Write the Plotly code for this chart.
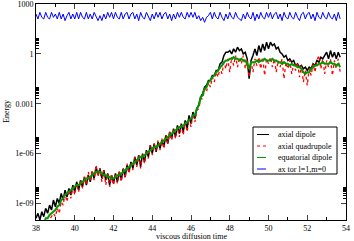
import plotly.graph_objects as go

T0 = 38.0
N = 158
time = [round(T0 + 0.1 * i, 1) for i in range(N)]

# log10 of energies
axial_dipole_log = [
-9.9,-9.6,-10.0,-9.5,-9.8,-9.3,-9.6,-9.1,-9.4,-8.8,
-9.2,-8.7,-9.0,-8.4,-8.8,-8.2,-8.6,-8.1,-8.5,-7.9,
-8.3,-7.7,-8.2,-7.6,-8.0,-7.4,-7.9,-7.3,-7.7,-7.1,
-7.5,-6.8,-7.3,-6.9,-7.5,-7.0,-7.6,-7.2,-7.9,-7.3,
-7.8,-7.2,-7.7,-7.1,-7.6,-6.9,-7.4,-6.7,-7.1,-6.5,
-6.9,-6.2,-6.7,-6.1,-6.8,-6.0,-6.5,-5.8,-6.2,-5.5,
-6.0,-5.4,-5.9,-5.3,-5.7,-5.2,-5.6,-4.9,-5.4,-4.7,
-5.1,-4.5,-5.0,-4.3,-4.8,-4.2,-4.7,-4.0,-4.5,-3.7,
-4.2,-3.5,-3.9,-3.3,-3.1,-2.6,-2.4,-2.0,-1.9,-1.6,
-1.6,-1.3,-1.3,-1.0,-1.0,-0.6,-0.5,-0.1,0.1,0.1,
0.2,0.0,0.3,0.1,0.4,0.2,0.3,0.0,0.1,-0.3,
-1.5,-0.4,-0.1,0.3,-0.1,0.5,0.1,0.6,0.2,0.7,
0.3,0.7,0.5,0.6,0.3,0.4,0.1,0.0,-0.2,-0.1,
-0.4,-0.3,-0.5,-0.4,-0.7,-0.6,-0.8,-0.7,-0.9,-0.8,
-1.0,-0.8,-0.9,-0.6,-0.7,-0.4,-0.5,-0.2,-0.3,-0.1,
0.1,-0.3,0.2,-0.2,0.1,-0.3,0.1,-0.2]

axial_quadrupole_log = [
-11.0,-10.8,-10.7,-10.5,-10.4,-10.2,-10.1,-9.9,-9.8,-9.6,
-9.8,-9.3,-9.6,-8.9,-9.1,-8.4,-8.9,-8.2,-8.7,-8.0,
-8.5,-7.8,-8.3,-7.6,-8.1,-7.4,-7.9,-7.1,-7.7,-7.0,
-7.6,-6.7,-7.4,-6.9,-7.7,-7.0,-7.9,-7.2,-8.0,-7.3,
-7.9,-7.2,-7.8,-7.0,-7.7,-6.9,-7.5,-6.6,-7.2,-6.5,
-7.0,-6.2,-6.8,-6.1,-6.9,-6.0,-6.6,-5.8,-6.3,-5.5,
-6.1,-5.4,-5.9,-5.2,-5.8,-5.1,-5.7,-4.9,-5.4,-4.7,
-5.2,-4.5,-5.1,-4.4,-5.0,-4.3,-4.9,-4.1,-4.7,-3.9,
-4.4,-3.6,-4.1,-3.4,-3.3,-2.7,-2.7,-2.1,-2.3,-1.7,
-2.0,-1.4,-1.7,-1.1,-1.4,-0.8,-1.2,-0.5,-0.9,-0.3,
-1.1,-0.2,-0.7,-0.1,-0.8,-0.2,-0.6,-0.1,-0.9,-0.4,
-1.4,-0.5,-1.1,-0.3,-0.7,-0.2,-0.9,-0.2,-1.3,-0.3,
-0.6,-0.2,-0.8,-0.3,-1.1,-0.4,-0.8,-0.3,-1.5,-0.5,
-0.9,-0.4,-1.2,-0.6,-1.0,-0.5,-1.4,-0.7,-1.7,-1.0,
-1.9,-0.9,-1.3,-0.6,-1.1,-0.4,-0.1,-0.9,-0.3,-1.2,
-0.4,-0.8,-0.3,-1.3,-0.4,-0.9,-0.3,-1.1]

equatorial_dipole_log = [
-10.8,-10.5,-10.6,-10.2,-10.3,-9.9,-9.9,-9.7,-9.6,-9.5,
-9.4,-9.2,-9.1,-8.8,-8.7,-8.5,-8.4,-8.3,-8.2,-8.1,
-8.0,-7.9,-7.9,-7.8,-7.7,-7.6,-7.5,-7.5,-7.4,-7.3,
-7.2,-7.1,-7.1,-7.1,-7.2,-7.3,-7.3,-7.4,-7.4,-7.5,
-7.5,-7.4,-7.3,-7.3,-7.2,-7.1,-7.0,-6.9,-6.8,-6.7,
-6.6,-6.5,-6.4,-6.3,-6.2,-6.2,-6.1,-6.0,-5.9,-5.8,
-5.7,-5.6,-5.6,-5.5,-5.4,-5.3,-5.2,-5.1,-5.0,-4.9,
-4.8,-4.7,-4.6,-4.5,-4.4,-4.4,-4.3,-4.2,-4.1,-4.0,
-3.9,-3.7,-3.7,-3.3,-3.1,-2.6,-2.5,-2.1,-2.0,-1.7,
-1.6,-1.4,-1.3,-1.1,-1.0,-0.8,-0.7,-0.5,-0.4,-0.4,
-0.3,-0.3,-0.2,-0.3,-0.3,-0.4,-0.3,-0.4,-0.4,-0.6,
-0.9,-0.5,-0.5,-0.5,-0.4,-0.5,-0.4,-0.4,-0.3,-0.4,
-0.4,-0.4,-0.3,-0.4,-0.4,-0.5,-0.5,-0.6,-0.5,-0.6,
-0.6,-0.7,-0.6,-0.7,-0.7,-0.8,-0.8,-0.9,-1.1,-1.2,
-1.1,-1.1,-0.9,-0.8,-0.7,-0.7,-0.6,-0.6,-0.5,-0.6,
-0.6,-0.6,-0.5,-0.6,-0.6,-0.7,-0.6,-0.8]

ax_tor_log = [
2.4,2.1,2.5,2.2,2.1,2.5,2.2,2.1,2.5,2.2,
2.4,2.1,2.5,2.1,2.4,2.0,2.3,2.5,2.1,2.4,
2.1,2.5,2.1,2.5,2.2,2.1,2.5,2.1,2.4,2.1,
2.5,2.2,2.0,2.3,2.0,2.4,2.1,2.5,2.2,2.5,
2.1,2.5,2.2,2.1,2.5,2.1,2.4,2.5,2.1,2.4,
2.5,2.1,2.4,2.0,2.5,2.2,2.1,2.5,2.2,2.0,
2.4,2.1,2.5,2.2,2.5,2.1,2.4,2.5,2.1,2.4,
2.0,2.4,2.1,2.5,2.2,2.5,2.2,2.1,2.5,2.2,
2.5,2.2,2.5,2.1,2.3,2.0,2.2,1.9,2.2,2.3,
2.5,2.1,2.5,2.2,2.1,2.5,2.2,2.0,2.4,2.1,
2.5,2.2,2.1,2.5,2.2,2.1,2.0,2.4,2.1,2.5,
2.2,2.1,2.5,2.0,2.4,2.1,2.5,2.2,2.1,2.5,
2.2,2.5,2.1,2.4,2.5,2.1,2.4,2.0,2.5,2.2,
2.1,2.5,2.2,2.1,2.5,2.2,2.0,2.4,2.5,2.1,
2.4,2.5,2.1,2.4,2.0,2.5,2.2,2.1,2.5,2.2,
2.1,2.5,2.2,2.1,2.4,2.0,2.5,2.1]

series_names = ["axial dipole", "axial quadrupole", "equatorial dipole", "ax tor l=1,m=0"]
series_colors = ["black", "red", "#009900", "blue"]
legend_dash = ["solid", "dot", "dash", "dash"]
x_tick_vals = [38, 40, 42, 44, 46, 48, 50, 52, 54]
y_tick_vals = [1e-9, 1e-6, 1e-3, 1, 1000]
y_tick_text = ["1e-09", "1e-06", "0.001", "1", "1000"]

FONT = "Liberation Serif, Times New Roman, serif"
W, H = 354, 241
ML, MR, MT, MB = 36, 8, 4, 21
PW, PH = W - ML - MR, H - MT - MB


def tolin(a):
    return [10 ** v for v in a]


def px(xp):
    return (xp - ML) / PW


def py(yp):
    return (H - MB - yp) / PH


fig = go.Figure()
fig.add_trace(go.Scatter(x=time, y=tolin(axial_dipole_log), name=series_names[0], mode="lines",
                         line=dict(color=series_colors[0], width=1.5)))
fig.add_trace(go.Scatter(x=time, y=tolin(axial_quadrupole_log), name=series_names[1], mode="lines",
                         line=dict(color=series_colors[1], width=1.3, dash="dot")))
fig.add_trace(go.Scatter(x=time, y=tolin(equatorial_dipole_log), name=series_names[2], mode="lines",
                         line=dict(color=series_colors[2], width=2.0)))
fig.add_trace(go.Scatter(x=time, y=tolin(ax_tor_log), name=series_names[3], mode="lines",
                         line=dict(color=series_colors[3], width=1.0)))

minor_y = [m * 10 ** e for e in (-9, -6, -3, 0) for m in range(2, 10)]

shapes = []
annotations = []
# manual legend box
shapes.append(dict(type="rect", xref="paper", yref="paper",
                   x0=px(253), x1=px(337), y0=py(174), y1=py(127),
                   line=dict(color="black", width=1), fillcolor="white", layer="above"))
entry_y = [134.5, 146, 157.5, 169]
for name, col, dsh, ey in zip(series_names, series_colors, legend_dash, entry_y):
    shapes.append(dict(type="line", xref="paper", yref="paper",
                       x0=px(257), x1=px(269), y0=py(ey), y1=py(ey),
                       line=dict(color=col, width=1, dash=dsh), layer="above"))
    annotations.append(dict(text=name, xref="paper", yref="paper", x=px(276), y=py(ey),
                            xanchor="left", yanchor="middle", showarrow=False,
                            font=dict(size=8, family=FONT, color="black")))
# axis titles
annotations.append(dict(text="viscous diffusion time", xref="paper", yref="paper",
                        x=0.5, y=py(236.5), xanchor="center", yanchor="middle", showarrow=False,
                        font=dict(size=8, family=FONT)))
annotations.append(dict(text="Energy", xref="paper", yref="paper",
                        x=px(6), y=0.5, xanchor="center", yanchor="middle", showarrow=False,
                        textangle=-90, font=dict(size=8, family=FONT)))

fig.update_layout(
    width=W, height=H,
    margin=dict(l=ML, r=MR, t=MT, b=MB, autoexpand=False),
    paper_bgcolor="white", plot_bgcolor="white",
    font=dict(family=FONT, size=8, color="black"),
    showlegend=False,
    shapes=shapes,
    annotations=annotations,
)
fig.update_xaxes(
    range=[38, 54], tickvals=x_tick_vals, ticks="inside", ticklen=5, tickwidth=1,
    showline=True, linecolor="black", linewidth=1, mirror="ticks", showgrid=False,
    zeroline=False, automargin=False, ticklabeloverflow="allow",
    minor=dict(dtick=1, ticks="inside", ticklen=3, tickcolor="black", showgrid=False),
    tickfont=dict(size=8),
)
fig.update_yaxes(
    type="log", range=[-10, 3.002], tickvals=y_tick_vals, ticktext=y_tick_text,
    ticks="inside", ticklen=5, tickwidth=1,
    showline=True, linecolor="black", linewidth=1, mirror="ticks", showgrid=False,
    zeroline=False, automargin=False, ticklabeloverflow="allow",
    minor=dict(tickvals=minor_y, ticks="inside", ticklen=3, tickcolor="black", showgrid=False),
    tickfont=dict(size=8),
)

fig.write_html(
    "out.html",
    config={"displayModeBar": False},
    post_script="document.body.style.margin='0';document.body.style.padding='0';"
                "document.body.style.overflow='hidden';",
)
